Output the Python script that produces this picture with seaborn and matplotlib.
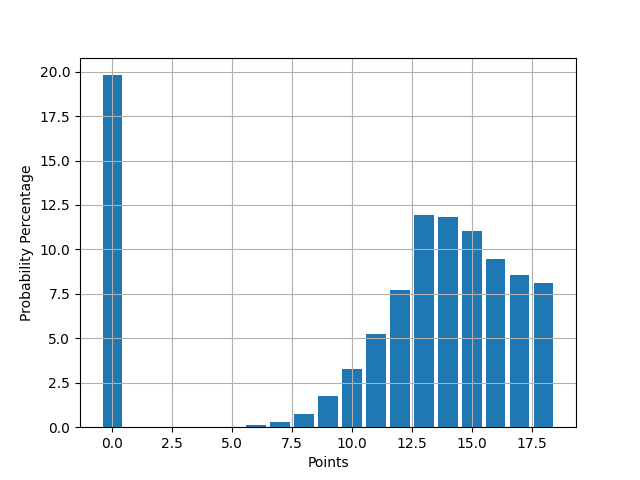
import numpy as np
import pandas as pd
import matplotlib
matplotlib.use("Agg")
import matplotlib.pyplot as plt
import seaborn as sns

points = list(range(19))
probability = [19.8, 0, 0, 0, 0, 0, 0.1, 0.28, 0.73, 1.78, 3.3, 5.24, 7.71,
               11.93, 11.82, 11.03, 9.45, 8.55, 8.1]

df = pd.DataFrame({"Points": points, "Probability": probability})

fig, ax = plt.subplots(figsize=(6.4, 4.8), dpi=100)
sns.barplot(data=df, x="Points", y="Probability", native_scale=True,
            color="#1f77b4", saturation=1, errorbar=None, width=0.8, ax=ax)
ax.grid(True)
ax.set_xlabel("Points")
ax.set_ylabel("Probability Percentage")
plt.savefig("out.png")
